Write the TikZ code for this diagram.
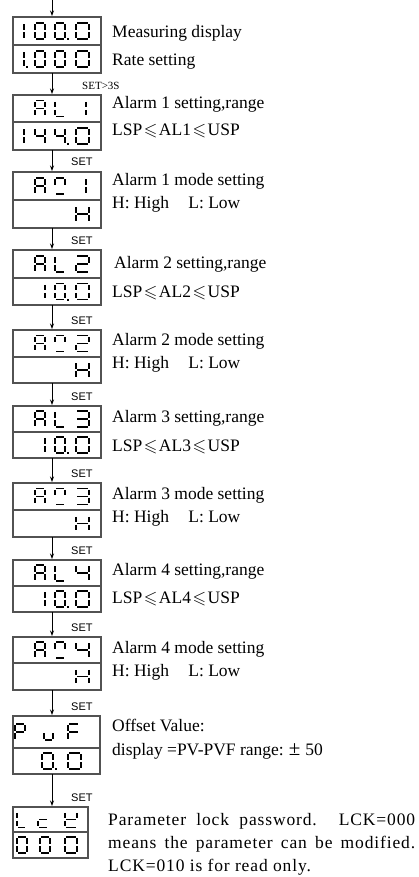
\documentclass[tikz,border=0pt]{standalone}
\usepackage{fontspec}
\usepackage{amssymb}
\setmainfont{Liberation Serif}
\newfontfamily\setfont{Liberation Sans}
\newfontfamily\spacedfont[LetterSpace=5]{Liberation Serif}
\usetikzlibrary{arrows.meta}

% seven-segment pieces, drawn in a cell of width \sw and height \sh
\newcommand\SegA{\draw[segline] (\sg,0) -- ({\sw-\sg},0);}
\newcommand\SegB{\draw[segline] (\sw,\sg) -- (\sw,{\sm-\sg});}
\newcommand\SegC{\draw[segline] (\sw,{\sm+\sg}) -- (\sw,{\sh-\sg});}
\newcommand\SegD{\draw[segline] (\sg,\sh) -- ({\sw-\sg},\sh);}
\newcommand\SegE{\draw[segline] (0,{\sm+\sg}) -- (0,{\sh-\sg});}
\newcommand\SegF{\draw[segline] (0,\sg) -- (0,{\sm-\sg});}
\newcommand\SegG{\draw[segline] (\sg,\sm) -- ({\sw-\sg},\sm);}
\newcommand\SegP{\fill ({\sw+2},{\sh-1}) rectangle ({\sw+4},{\sh+1});}

\def\zero{A,B,C,D,E,F}
\def\one{B,C}
\def\two{A,B,G,E,D}
\def\three{A,B,G,C,D}
\def\four{F,G,B,C}
\def\letA{A,B,C,E,F,G}
\def\letL{F,E,D}
\def\letH{B,C,E,F,G}
\def\modech{A,B,F,D}

% glyph: left x, top y, width, list of segments
\newcommand\glyph[4]{%
  \begin{scope}[shift={(#1,#2)}]
    \def\sw{#3}\def\sh{16}\def\sm{8}\def\sg{1.3}
    \edef\seglist{#4}%
    \foreach \s in \seglist {\csname Seg\s\endcsname}
  \end{scope}}

% two-row display: name, left, top, divider, bottom, width
\newcommand\panel[6]{%
  \node[half, minimum width=#6pt, minimum height=#4pt-#3pt] (up#1) at (#2,#3) {};
  \node[half, minimum width=#6pt, minimum height=#5pt-#4pt] (lo#1) at (#2,#4) {};}

\newcommand\leqs{\hspace{1.5pt}$\leqslant$\hspace{1.5pt}}

\begin{document}
\begin{tikzpicture}[x=1pt,y=-1pt,
  half/.style={draw=black!68, line width=2.2pt, inner sep=0pt, outer sep=0pt,
    rectangle, anchor=north west},
  segline/.style={line width=1.5pt, black},
  flow/.style={-{Stealth[length=5.5pt,width=4pt]}, line width=0.7pt, shorten >=1pt},
  lbl/.style={font=\fontsize{17.5}{20}\selectfont, anchor=base west, inner sep=0pt},
  setlbl/.style={font=\setfont\fontsize{11}{13}\selectfont, anchor=base west, inner sep=0pt}]
\useasboundingbox (0,0) rectangle (419,877);

\coordinate (ax) at (52,0);
\coordinate (sx) at (71,0);

% displays
\panel{0}{13}{17}{45}{73}{88}
\panel{1}{13}{95}{122}{150}{88}
\panel{2}{13}{172}{200}{228}{88}
\panel{3}{13}{250}{278}{305}{88}
\panel{4}{13}{330}{357}{383}{88}
\panel{5}{13}{406}{432}{458}{88}
\panel{6}{13}{483}{510}{537}{88}
\panel{7}{13}{560}{586}{612}{88}
\panel{8}{13}{637}{663}{690}{88}
\panel{9}{13}{716}{748}{774}{87}
\panel{10}{13}{807}{832}{858}{75}

% flow arrows
\draw[flow] (ax) -- (up0.north -| ax);
\foreach \i [evaluate=\i as \j using int(\i+1)] in {0,...,9}
  \draw[flow] (lo\i.south -| ax) -- (up\j.north -| ax);

% key labels
\node[lbl, font=\fontsize{11}{13}\selectfont] (k1) at (82,90) {SET>3S};
\foreach \j in {2,...,10}
  \node[setlbl] (k\j) at ([yshift=6pt]up\j.north -| sx) {SET};

% display contents
\glyph{14}{23}{10}{\one}
\glyph{35}{23}{10}{\zero}
\glyph{55}{23}{10}{\zero,P}
\glyph{76}{23}{13}{\zero}
\glyph{14}{51}{10}{\one,P}
\glyph{35}{51}{10}{\zero}
\glyph{55}{51}{10}{\zero}
\glyph{76}{51}{13}{\zero}

\glyph{35}{100.5}{10}{\letA}
\glyph{55}{100.5}{10}{\letL}
\glyph{74}{100.5}{12}{\one}
\glyph{14}{128}{10}{\one}
\glyph{35}{128}{10}{\four}
\glyph{55}{128}{10}{\four,P}
\glyph{76}{128}{13}{\zero}

\glyph{35}{178}{10}{\letA}
\glyph{55}{178}{10}{\modech}
\glyph{74}{178}{12}{\one}
\glyph{76}{206}{13}{\letH}

\glyph{35}{256}{10}{\letA}
\glyph{55}{256}{10}{\letL}
\glyph{76}{256}{13}{\two}
\glyph{35}{283.5}{10}{\one}
\glyph{55}{283.5}{10}{\zero,P}
\glyph{76}{283.5}{13}{\zero}

\glyph{35}{335.5}{10}{\letA}
\glyph{55}{335.5}{10}{\modech}
\glyph{76}{335.5}{13}{\two}
\glyph{76}{362}{13}{\letH}

\glyph{35}{411}{10}{\letA}
\glyph{55}{411}{10}{\letL}
\glyph{76}{411}{13}{\three}
\glyph{35}{437}{10}{\one}
\glyph{55}{437}{10}{\zero,P}
\glyph{76}{437}{13}{\zero}

\glyph{35}{488.5}{10}{\letA}
\glyph{55}{488.5}{10}{\modech}
\glyph{76}{488.5}{13}{\three}
\glyph{76}{515.5}{13}{\letH}

\glyph{35}{565}{10}{\letA}
\glyph{55}{565}{10}{\letL}
\glyph{76}{565}{13}{\four}
\glyph{35}{591}{10}{\one}
\glyph{55}{591}{10}{\zero,P}
\glyph{76}{591}{13}{\zero}

\glyph{35}{642}{10}{\letA}
\glyph{55}{642}{10}{\modech}
\glyph{76}{642}{13}{\four}
\glyph{76}{668.5}{13}{\letH}

\glyph{15}{724}{10}{A,B,F,G,E}
\glyph{44}{724}{9}{E,D,C}
\glyph{68}{724}{11}{A,F,G,E}
\glyph{42}{753}{11}{\zero,P}
\glyph{68}{753}{13}{\zero}

\glyph{17}{811.5}{9}{\letL}
\glyph{38}{811.5}{10}{G,E,D}
\glyph{65}{811.5}{12}{F,E,D,B,G}
\glyph{17}{837}{10}{\zero}
\glyph{40}{837}{10}{\zero}
\glyph{65}{837}{12}{\zero}

% descriptions
\node[lbl] (t0a) at (112,38) {Measuring display};
\node[lbl] (t0b) at (112,66) {Rate setting};
\node[lbl] (t1a) at (112,109) {Alarm 1 setting,range};
\node[lbl] (t1b) at (112,136) {LSP\leqs AL1\leqs USP};
\node[lbl] (t2a) at (112,186) {Alarm 1 mode setting};
\node[lbl] (t2b) at (112,209) {H: High\hspace{1.1em}L: Low};
\node[lbl] (t3a) at (114,268) {Alarm 2 setting,range};
\node[lbl] (t3b) at (112,297) {LSP\leqs AL2\leqs USP};
\node[lbl] (t4a) at (112,345) {Alarm 2 mode setting};
\node[lbl] (t4b) at (112,368) {H: High\hspace{1.1em}L: Low};
\node[lbl] (t5a) at (112,422) {Alarm 3 setting,range};
\node[lbl] (t5b) at (112,451) {LSP\leqs AL3\leqs USP};
\node[lbl] (t6a) at (112,499) {Alarm 3 mode setting};
\node[lbl] (t6b) at (112,522) {H: High\hspace{1.1em}L: Low};
\node[lbl] (t7a) at (112,575) {Alarm 4 setting,range};
\node[lbl] (t7b) at (112,603) {LSP\leqs AL4\leqs USP};
\node[lbl] (t8a) at (112,653) {Alarm 4 mode setting};
\node[lbl] (t8b) at (112,676) {H: High\hspace{1.1em}L: Low};
\node[lbl] (t9a) at (112,731) {Offset Value:};
\node[lbl] (t9b) at (112,755) {display =PV-PVF range:\hspace{5pt}{\fontsize{21}{20}\selectfont ±}\hspace{5pt}50};
\node[lbl, font=\spacedfont\fontsize{17.5}{20}\selectfont] (t10a) at (108,825)
  {\makebox[307pt][s]{Parameter lock password. LCK=000}};
\node[lbl, font=\spacedfont\fontsize{17.5}{20}\selectfont] (t10b) at (108,848)
  {\makebox[307pt][s]{means the parameter can be modified.}};
\node[lbl, font=\spacedfont\fontsize{17.5}{20}\selectfont] (t10c) at (108,871)
  {LCK=010 is for read only.};
\end{tikzpicture}
\end{document}
